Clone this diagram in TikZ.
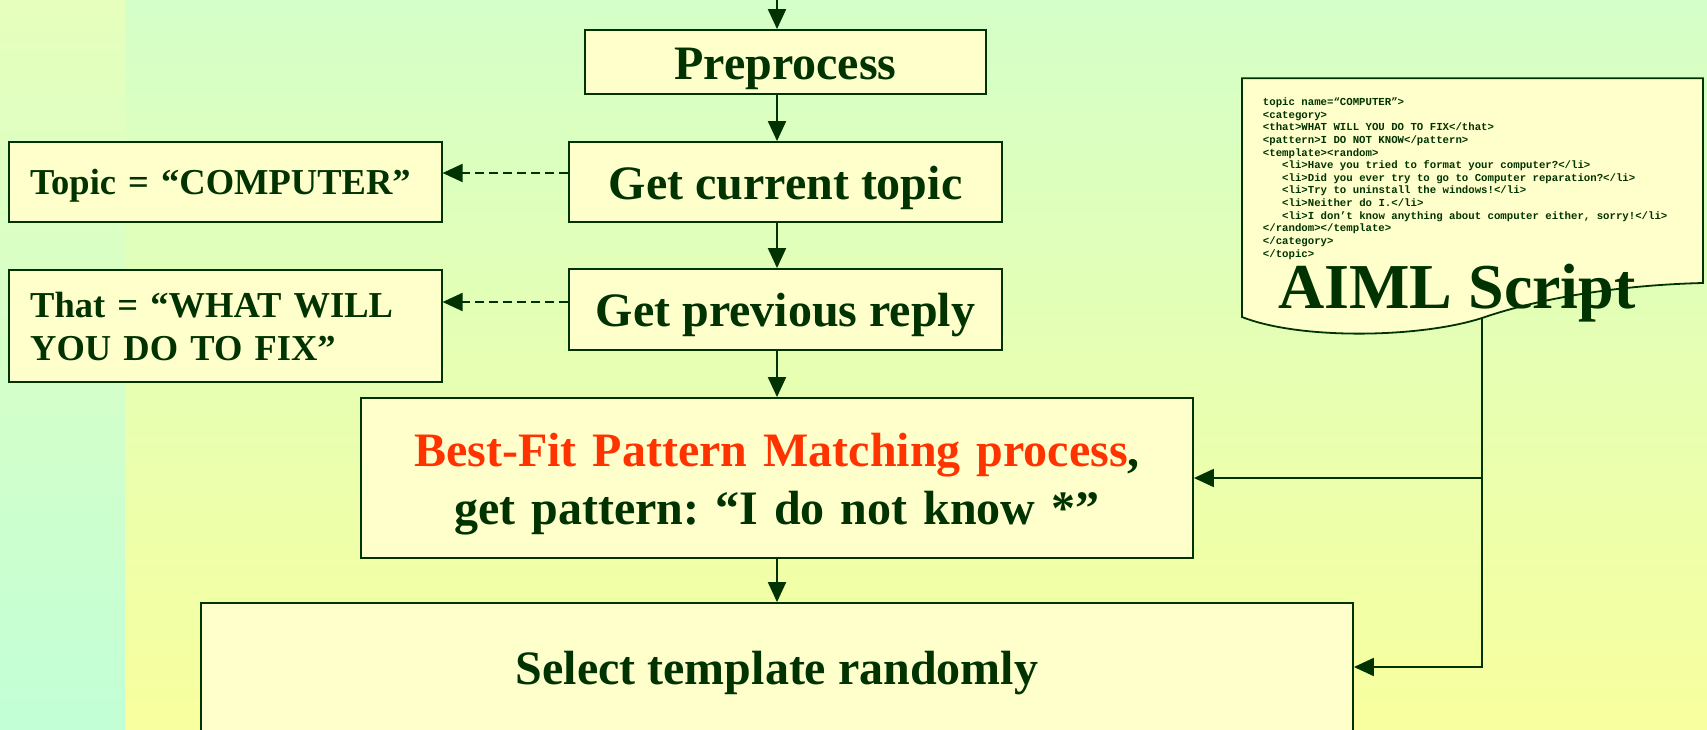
\documentclass[tikz,border=0pt]{standalone}
\usepackage{fontspec}
\setmainfont{Liberation Serif}
\setmonofont{Liberation Mono}
\usetikzlibrary{arrows.meta,calc}
\frenchspacing

\definecolor{ink}{HTML}{003300}
\definecolor{paper}{HTML}{FFFFCC}
\definecolor{hot}{HTML}{FF3300}
\definecolor{bgtop}{HTML}{D4FFC8}
\definecolor{bgbot}{HTML}{F8FF9E}
\definecolor{striptop}{HTML}{E6FFBC}
\definecolor{stripbot}{HTML}{C2FFD6}

\begin{document}
\begin{tikzpicture}[x=1pt,y=-1pt,
  box/.style={draw=ink, fill=paper, line width=1.8pt, text=ink, inner sep=0pt},
  big/.style={box, font=\fontsize{48}{58.5}\selectfont\bfseries, text height=34.6pt, text depth=0pt},
  side/.style={box, font=\fontsize{36.5}{43}\selectfont\bfseries, align=left, text width=390pt, text height=26.5pt},
  flow/.style={draw=ink, line width=2pt, -{Triangle[length=20pt,width=18pt]}},
  peek/.style={flow, dash pattern=on 9pt off 5pt},
]
% page and background
\useasboundingbox (0,0) rectangle (1707,730);
\shade[top color=striptop, bottom color=stripbot] (0,0) rectangle (125,730);
\shade[top color=bgtop, bottom color=bgbot] (125,0) rectangle (1707,730);
\clip (0,0) rectangle (1707,730);

% main flow
\node[big, minimum width=401pt, minimum height=64pt] (pre) at (785.5,62) {Preprocess};
\node[big, minimum width=433pt, minimum height=80pt] (cur) at (785.5,182) {Get current topic};
\node[big, minimum width=433pt, minimum height=81pt] (prev) at (785.5,309.5) {Get previous reply};
\node[box, font=\fontsize{48}{58.5}\selectfont\bfseries\frenchspacing, align=center, text width=800pt,
      text height=34.6pt, text depth=58.5pt,
      minimum width=832pt, minimum height=160pt] (best) at (777,478)
  {\textcolor{hot}{Best-Fit Pattern Matching process},\\get pattern: “I do not know *”};
\node[big, minimum width=1152pt, minimum height=128pt] (sel) at (777,667) {Select template randomly};

% side results
\node[side, minimum width=433pt, minimum height=80pt, text depth=0pt] (topic) at (225.2,181.7)
  {Topic = “COMPUTER”};
\node[side, minimum width=433pt, minimum height=111.7pt, text depth=43pt] (that) at (225.2,325.8)
  {That = “WHAT WILL\\YOU DO TO FIX”};

% AIML document
\filldraw[draw=ink, fill=paper, line width=1.8pt]
  (1242,78.3) -- (1703,78.3) -- (1703,283)
  .. controls (1620,285) and (1540,298) .. (1482,318)
  .. controls (1420,338) and (1300,340) .. (1242,317) -- cycle;
\coordinate (docfoot) at (1482,318);
\node[anchor=north west, inner sep=0pt, align=left, text=ink,
      font=\fontsize{10.7}{12.64}\selectfont\ttfamily\bfseries] (code) at (1262.7,97.5)
  {topic name=“COMPUTER”>\\
   <category>\\
   <that>WHAT WILL YOU DO TO FIX</that>\\
   <pattern>I DO NOT KNOW</pattern>\\
   <template><random>\\
   \hspace*{19.3pt}<li>Have you tried to format your computer?</li>\\
   \hspace*{19.3pt}<li>Did you ever try to go to Computer reparation?</li>\\
   \hspace*{19.3pt}<li>Try to uninstall the windows!</li>\\
   \hspace*{19.3pt}<li>Neither do I.</li>\\
   \hspace*{19.3pt}<li>I don’t know anything about computer either, sorry!</li>\\
   </random></template>\\
   </category>\\
   </topic>};
\node[anchor=base west, inner sep=0pt, text=ink, font=\fontsize{64}{70}\selectfont\bfseries]
  (title) at (1278,308) {AIML Script};

% connectors
\coordinate (feed) at (777,-5);
\draw[flow] (feed) -- (feed |- pre.north);
\draw[flow] (pre.south -| feed) -- (cur.north -| feed);
\draw[flow] (cur.south -| feed) -- (prev.north -| feed);
\draw[flow] (prev.south -| feed) -- (best.north);
\draw[flow] (best.south) -- (sel.north);
\draw[peek] ([yshift=9pt]cur.west) -- ([yshift=9pt]cur.west -| topic.east);
\draw[peek] ([yshift=7.5pt]prev.west) -- ([yshift=7.5pt]prev.west -| that.east);
\draw[flow] (docfoot) |- (best.east);
\draw[flow] (docfoot) |- (sel.east);
\end{tikzpicture}
\end{document}
